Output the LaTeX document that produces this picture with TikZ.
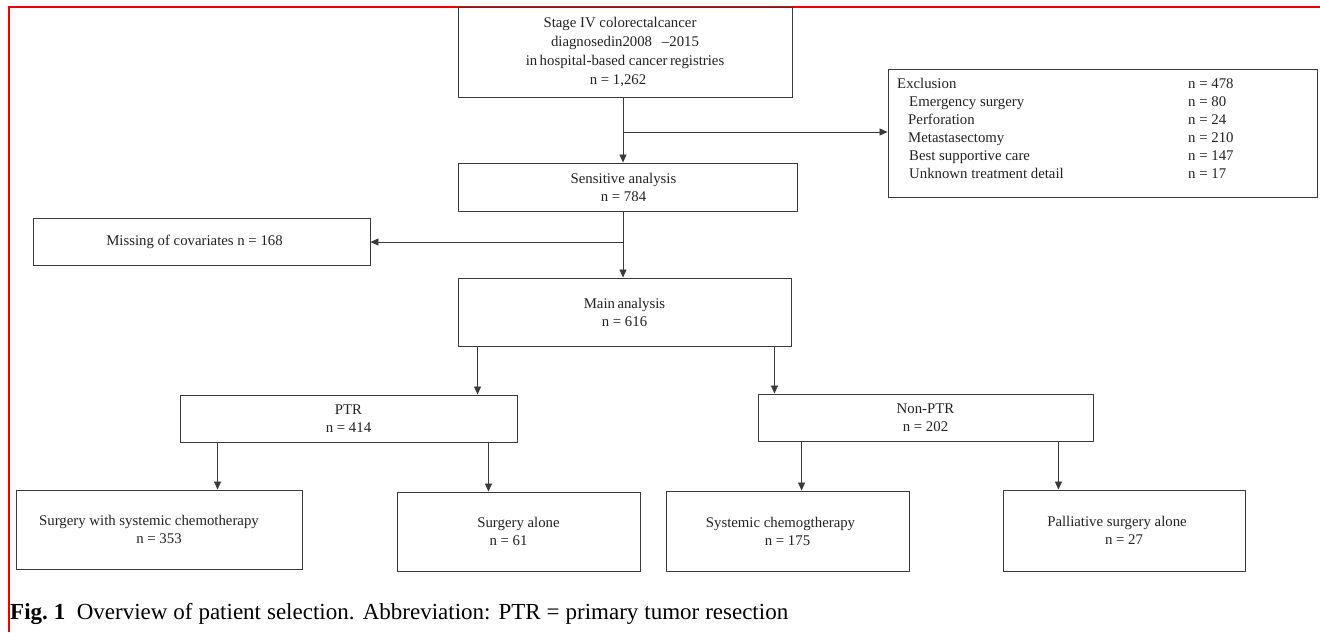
\documentclass[tikz,border=0pt]{standalone}
\usepackage{fontspec}
\setmainfont{Liberation Serif}
\usetikzlibrary{arrows.meta,calc}
\definecolor{linegray}{HTML}{3A3A3A}
\definecolor{textgray}{HTML}{222222}
\definecolor{framered}{HTML}{F00000}
\begin{document}
\begin{tikzpicture}[x=1pt,y=-1pt,
  box/.style={draw=linegray, line width=0.9pt, inner sep=0pt, align=center,
    text=textgray, font=\fontsize{14.8}{18}\selectfont},
  etxt/.style={inner sep=0pt, anchor=base west, text=textgray, font=\fontsize{14.8}{18}\selectfont},
  arr/.style={draw=linegray, line width=0.8pt, -{Triangle[length=8pt,width=7pt]}},
]
\useasboundingbox (0,0) rectangle (1320,632);
% red frame
\draw[framered, line width=2pt] (8.5,632) -- (8.5,6.5) -- (1320,6.5);

% boxes
\node[box, minimum width=334pt, minimum height=90pt, font=\fontsize{14.8}{18.7}\selectfont] (top) at (625,52)
  {Stage IV colorectalcancer\hspace*{10pt}\\ diagnosedin2008\enspace\,--2015\hspace*{8pt}\\ in\,hospital-based cancer\,registries\hspace*{10pt}\\ n = 1,262\hspace*{14pt}};
\node[box, minimum width=339pt, minimum height=48pt] (sens) at (627.5,187) {Sensitive analysis\hspace*{8pt}\\ n = 784\hspace*{8pt}};
\node[box, minimum width=429pt, minimum height=128pt] (excl) at (1102.5,133) {};
\node[box, minimum width=337pt, minimum height=47pt] (miss) at (201.5,241.5) {Missing of covariates n = 168\hspace*{14pt}};
\node[box, minimum width=333pt, minimum height=68pt] (main) at (624.5,312) {Main\,analysis\\ n = 616};
\node[box, minimum width=337pt, minimum height=47pt] (ptr) at (348.5,418.5) {PTR\\ n = 414};
\node[box, minimum width=335pt, minimum height=47pt] (nonptr) at (925.5,417.5) {Non-PTR\\ n = 202};
\node[box, minimum width=286pt, minimum height=79pt] (s1) at (159,529.5) {Surgery with systemic chemotherapy\hspace*{20pt}\\ n = 353};
\node[box, minimum width=243pt, minimum height=79pt] (s2) at (518.5,531.5) {Surgery alone\\ n = 61\hspace*{20pt}};
\node[box, minimum width=243pt, minimum height=80pt] (s3) at (787.5,531) {Systemic chemogtherapy\hspace*{14pt}\\ n = 175};
\node[box, minimum width=242pt, minimum height=81pt] (s4) at (1124,530.5) {Palliative surgery alone\hspace*{14pt}\\ n = 27};

% exclusion text
\node[etxt] (e0) at (897,88) {Exclusion};
\node[etxt] (e1) at (909,106) {Emergency surgery};
\node[etxt] (e2) at (908,124) {Perforation};
\node[etxt] (e3) at (908,142) {Metastasectomy};
\node[etxt] (e4) at (909,160) {Best supportive care};
\node[etxt] (e5) at (909,178) {Unknown treatment detail};
\node[etxt] (n0) at (1188,88) {n = 478};
\node[etxt] (n1) at (1188,106) {n = 80};
\node[etxt] (n2) at (1188,124) {n = 24};
\node[etxt] (n3) at (1188,142) {n = 210};
\node[etxt] (n4) at (1188,160) {n = 147};
\node[etxt] (n5) at (1188,178) {n = 17};

% connectors
\coordinate (j1) at (623,132);
\coordinate (j2) at (623,242);
\draw[arr] (top.south -| j1) -- (sens.north -| j1);
\draw[arr] (j1) -- (j1 -| excl.west);
\draw[arr] (sens.south -| j2) -- (main.north -| j2);
\draw[arr] (j2) -- (j2 -| miss.east);
\draw[arr] ([xshift=20pt]main.south west) -- ([xshift=20pt]main.south west |- ptr.north);
\draw[arr] ([xshift=-17pt]main.south east) -- ([xshift=-17pt]main.south east |- nonptr.north);
\draw[arr] ([xshift=38pt]ptr.south west) -- ([xshift=38pt]ptr.south west |- s1.north);
\draw[arr] ([xshift=-29pt]ptr.south east) -- ([xshift=-29pt]ptr.south east |- s2.north);
\draw[arr] ([xshift=44pt]nonptr.south west) -- ([xshift=44pt]nonptr.south west |- s3.north);
\draw[arr] ([xshift=-35pt]nonptr.south east) -- ([xshift=-35pt]nonptr.south east |- s4.north);

% caption
\node[inner sep=0pt, anchor=base west, text=black, font=\fontsize{23}{27}\selectfont] (cap) at (10,619)
  {\makebox[778pt][s]{\textbf{Fig.~1}\hspace{0.5em}Overview of patient selection. Abbreviation: PTR = primary tumor resection}};
\end{tikzpicture}
\end{document}
